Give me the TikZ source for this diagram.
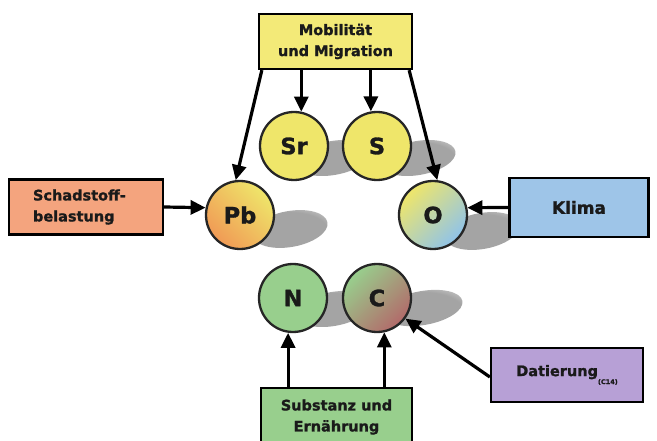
\documentclass[tikz,border=0pt]{standalone}
\usepackage{fontspec}
\setmainfont{DejaVu Sans}[BoldFeatures={FakeBold=1.3}]
\usetikzlibrary{arrows.meta}
\definecolor{txt}{HTML}{1A1A1A}
\definecolor{ymob}{HTML}{F3EA78}
\definecolor{ycirc}{HTML}{EFE66A}
\definecolor{orng}{HTML}{F09A55}
\definecolor{schad}{HTML}{F4A47E}
\definecolor{klima}{HTML}{9EC5E8}
\definecolor{lblue}{HTML}{8FC3EA}
\definecolor{dat}{HTML}{B7A0D6}
\definecolor{grn}{HTML}{98CF8D}
\definecolor{cred}{HTML}{B26A6A}
\definecolor{shd}{HTML}{A4A4A4}
\pgfdeclareradialshading{softshadow}{\pgfpoint{0bp}{0bp}}{color(0bp)=(shd); color(24bp)=(shd); color(50bp)=(white)}
\tikzset{
  box/.style={draw=black, line width=2.3pt, minimum height=55pt, inner sep=2pt,
    font=\fontsize{14.5}{21}\selectfont\bfseries, text=txt, align=center},
  elem/.style={circle, draw=black!85, line width=2.3pt, minimum size=68pt, inner sep=0pt,
    font=\fontsize{22.5}{26}\selectfont\bfseries, text=txt},
  arr/.style={line width=3.2pt, -{Triangle[length=15pt,width=14pt]}},
  shadowell/.style={shading=softshadow}
}
\begin{document}
\begin{tikzpicture}[x=1pt,y=-1pt]
\useasboundingbox (0,0) rectangle (657,441);
\fill[white] (0,0) rectangle (657,441);
% shadows
\shade[shadowell, rotate around={10:(333,158)}] (333,158) ellipse [x radius=38, y radius=17];
\shade[shadowell, rotate around={10:(418,158)}] (418,158) ellipse [x radius=38, y radius=17];
\shade[shadowell, rotate around={10:(290,229)}] (290,229) ellipse [x radius=38, y radius=18];
\shade[shadowell, rotate around={10:(482,231)}] (482,231) ellipse [x radius=38, y radius=18];
\shade[shadowell, rotate around={10:(333,309)}] (333,309) ellipse [x radius=38, y radius=17];
\shade[shadowell, rotate around={10:(423,308)}] (423,308) ellipse [x radius=40, y radius=17];
% boxes
\node[box, fill=ymob, minimum width=153pt] (mob) at (335.5,41.5) {Mobilität\\und Migration};
\node[box, fill=schad, minimum width=154pt, align=left, text width=106pt] (schad) at (86,207) {Schadstoff-\\belastung};
\node[box, fill=klima, minimum width=139pt, minimum height=59pt, font=\fontsize{17}{20}\selectfont\bfseries] (klima) at (579,207.5) {Klima};
\node[box, fill=dat, minimum width=152pt, minimum height=54pt] (dat) at (567,375) {Datierung\raisebox{-8pt}{\fontsize{6.5}{7}\selectfont (C14)}};
\node[box, fill=grn, minimum width=151pt, minimum height=58pt] (sub) at (336.5,417) {Substanz und\\Ernährung};
% circles
\node[elem, fill=ycirc] (sr) at (294,146) {Sr};
\node[elem, fill=ycirc] (s) at (377,146) {S};
\node[elem, top color=ycirc, bottom color=orng, shading angle=-45] (pb) at (240,215) {Pb};
\node[elem, top color=ycirc, bottom color=lblue, shading angle=45] (o) at (433,215) {O};
\node[elem, fill=grn] (n) at (293,298) {N};
\node[elem, top color=grn, middle color=grn, bottom color=cred, shading angle=45] (c) at (377,298) {C};
% arrows
\draw[arr] ([xshift=4pt]mob.south west) -- (pb.97);
\draw[arr] (mob.south -| sr.78) -- (sr.78);
\draw[arr] (mob.south -| s.100) -- (s.100);
\draw[arr] ([xshift=-4pt]mob.south east) -- (o.83);
\draw[arr] (schad.east) -- (pb.168);
\draw[arr] (klima.west) -- (o.12);
\draw[arr] (sub.north -| n.-98) -- (n.-98);
\draw[arr] (sub.north -| c.-78) -- (c.-78);
\draw[arr] ([yshift=-2pt]dat.west) -- (c.-36);
\end{tikzpicture}
\end{document}
